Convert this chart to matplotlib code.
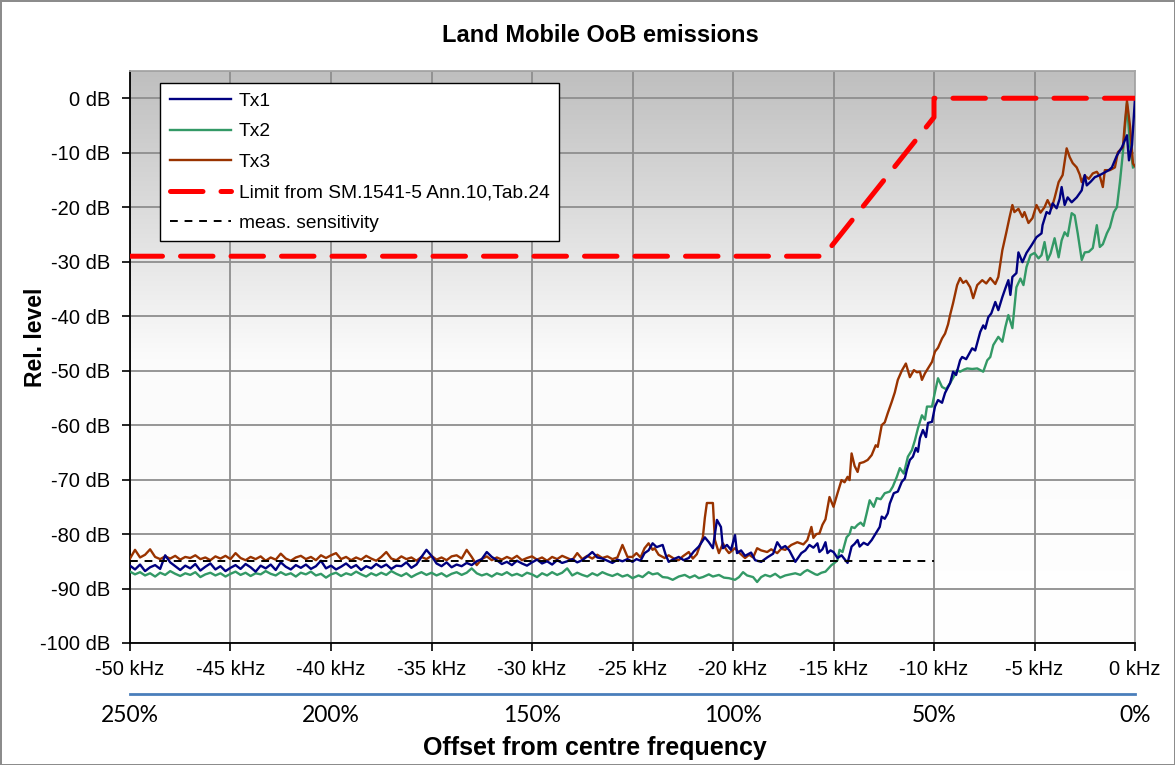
import numpy as np
import matplotlib
matplotlib.use("Agg")
import matplotlib.pyplot as plt

plt.rcParams['font.family'] = ['Liberation Sans', 'DejaVu Sans']

# ---------------- data ----------------
# noise-floor part, sampled every 0.25 kHz from -50 kHz to -25.25 kHz
floor_start_khz = -50.0
floor_step_khz = 0.25

tx1_floor_db = [
    -85.8, -86.5, -85.6, -86.8, -86.1, -85.7, -86.4, -83.9, -85.2, -85.9,
    -86.6, -85.8, -86.3, -85.5, -86.7, -86.0, -85.4, -86.5, -85.9, -86.8,
    -86.2, -85.7, -86.4, -85.5, -86.1, -86.9, -85.8, -86.3, -85.6, -86.6,
    -85.2, -86.0, -86.5, -85.7, -86.2, -85.6, -86.4, -85.9, -84.9, -86.3,
    -85.8, -86.5, -86.0, -85.4, -86.2, -85.7, -86.6, -85.9, -86.3, -85.5,
    -86.1, -85.6, -86.4, -85.8, -85.9, -85.2, -86.2, -85.6, -84.2, -82.9,
    -84.0, -85.4, -85.9, -85.2, -86.1, -85.6, -85.9, -85.3, -85.7, -85.0,
    -84.6, -83.3, -84.2, -84.8, -85.5, -85.1, -85.7, -84.9, -85.4, -85.8,
    -85.2, -84.7, -85.4, -85.0, -85.6, -84.8, -85.3, -85.0, -84.6, -85.2,
    -84.8, -84.1, -83.3, -84.3, -84.5, -84.9, -85.3, -84.7, -85.0, -84.6]

tx2_floor_db = [
    -86.9, -87.4, -87.0, -87.6, -87.2, -87.8, -87.1, -87.5, -86.8, -87.3,
    -87.7, -87.2, -87.5, -87.0, -87.9, -87.4, -87.1, -87.6, -87.2, -87.8,
    -87.3, -86.9, -87.5, -87.1, -87.7, -87.2, -87.4, -86.8, -87.3, -87.6,
    -87.0, -87.5, -87.2, -87.8, -87.1, -87.4, -86.9, -87.6, -87.3, -88.0,
    -87.4, -87.1, -87.7, -87.2, -87.5, -86.9, -87.4, -87.8, -87.2, -87.6,
    -87.1, -87.5, -86.8, -87.3, -87.7, -87.2, -87.9, -87.4, -87.0, -87.5,
    -87.1, -87.6, -87.2, -87.8, -87.3, -87.0, -87.5, -87.1, -86.3, -87.2,
    -87.6, -87.3, -87.8, -87.2, -87.5, -87.0, -87.6, -87.3, -87.7, -87.1,
    -87.4, -87.9, -87.2, -87.6, -87.0, -87.5, -87.1, -86.3, -87.6, -87.1,
    -87.5, -87.8, -87.2, -87.6, -87.0, -87.4, -87.7, -87.3, -87.8, -87.5]

tx3_floor_db = [
    -84.5, -82.9, -84.3, -83.8, -82.8, -84.2, -84.6, -84.1, -84.5, -84.0,
    -84.7, -84.2, -84.4, -83.9, -84.6, -84.3, -84.8, -84.1, -84.5, -84.0,
    -84.6, -83.5, -84.4, -84.8, -84.2, -84.6, -84.1, -84.9, -84.3, -84.7,
    -83.6, -84.5, -84.9, -84.3, -84.0, -84.6, -84.2, -84.8, -83.9, -84.4,
    -83.9, -83.5, -84.6, -84.2, -84.8, -84.3, -84.7, -84.0, -84.5, -84.9,
    -84.2, -83.3, -84.5, -84.8, -84.1, -84.6, -84.3, -84.9, -84.2, -84.6,
    -84.0, -84.7, -84.3, -84.8, -84.1, -83.9, -84.5, -82.9, -84.2, -85.7,
    -84.6, -84.1, -84.8, -84.3, -84.7, -84.2, -84.6, -84.0, -84.8, -84.4,
    -84.1, -84.7, -84.3, -84.9, -84.2, -84.6, -84.0, -84.4, -84.8, -83.5,
    -84.6, -84.0, -84.5, -83.8, -84.4, -84.1, -84.6, -84.3, -82.0, -84.2]

# rising part: (kHz, dB) pairs
tx1_rise_khz = [
    -25.0, -24.8, -24.6, -24.4, -24.2, -24.0, -23.8, -23.5, -23.35, -23.2,
    -22.95, -22.7, -22.45, -22.2, -21.95, -21.7, -21.4, -21.2, -21.0, -20.8,
    -20.6, -20.5, -20.3, -20.1, -19.9, -19.8, -19.6, -19.4, -19.1, -18.9,
    -18.6, -18.3, -18.0, -17.8, -17.6, -17.4, -17.2, -16.9, -16.6, -16.4,
    -16.2, -16.0, -15.8, -15.7, -15.55, -15.4, -15.3, -15.15, -15.0, -14.8,
    -14.6, -14.45, -14.3, -14.1, -13.95, -13.8, -13.7, -13.5, -13.3, -13.1,
    -12.9, -12.7, -12.6, -12.45, -12.3, -12.2, -12.0, -11.8, -11.6, -11.45,
    -11.35, -11.2, -11.05, -10.9, -10.8, -10.7, -10.55, -10.4, -10.3, -10.1,
    -9.95, -9.8, -9.6, -9.45, -9.2, -9.05, -8.9, -8.7, -8.6, -8.4,
    -8.1, -7.95, -7.7, -7.55, -7.45, -7.3, -7.15, -6.95, -6.8, -6.6,
    -6.45, -6.3, -6.2, -6.1, -5.9, -5.8, -5.6, -5.4, -5.15, -4.9,
    -4.65, -4.6, -4.4, -4.25, -4.1, -3.9, -3.75, -3.65, -3.5, -3.35,
    -3.15, -2.9, -2.65, -2.5, -2.4, -2.2, -2.0, -1.75, -1.5, -1.3,
    -1.15, -0.9, -0.65, -0.4, -0.3, -0.15, 0.0]
tx1_rise_db = [
    -85.1, -84.6, -84.9, -83.5, -83.0, -81.7, -82.4, -82.0, -83.8, -85.1,
    -84.6, -84.2, -84.8, -84.4, -83.2, -82.3, -80.6, -81.5, -82.6, -77.4,
    -78.7, -82.6, -82.0, -82.9, -80.2, -83.5, -83.0, -84.0, -83.4, -84.8,
    -85.1, -84.3, -83.6, -81.5, -82.6, -82.2, -83.0, -85.1, -83.5, -83.0,
    -82.0, -82.5, -81.7, -83.3, -82.8, -81.5, -83.5, -83.0, -83.3, -84.4,
    -83.9, -84.6, -85.3, -82.3, -81.8, -81.1, -82.3, -81.6, -82.0, -81.1,
    -79.9, -78.7, -76.8, -77.2, -76.2, -74.4, -72.5, -72.2, -70.4, -69.8,
    -68.2, -66.4, -65.8, -64.2, -64.9, -62.4, -60.9, -62.2, -59.6, -59.4,
    -56.6, -55.4, -55.9, -54.1, -52.3, -50.2, -50.8, -48.1, -47.5, -47.9,
    -45.9, -46.3, -42.9, -41.7, -42.3, -40.2, -39.5, -37.4, -38.9, -36.5,
    -34.9, -33.4, -36.1, -32.8, -32.1, -28.3, -30.1, -28.4, -27.0, -25.5,
    -24.8, -23.3, -20.9, -21.2, -19.3, -20.2, -18.5, -16.3, -19.6, -18.2,
    -19.1, -18.2, -16.9, -14.1, -16.0, -15.3, -14.5, -14.1, -13.6, -13.2,
    -12.7, -10.5, -9.0, -6.8, -11.4, -8.6, 0.0]

tx2_rise_khz = [
    -25.0, -24.7, -24.5, -24.2, -24.0, -23.75, -23.5, -23.25, -23.0, -22.7,
    -22.4, -22.15, -21.9, -21.7, -21.5, -21.2, -21.0, -20.7, -20.45, -20.2,
    -19.9, -19.7, -19.5, -19.3, -19.0, -18.8, -18.6, -18.4, -18.15, -17.9,
    -17.65, -17.4, -17.15, -16.9, -16.65, -16.45, -16.3, -16.1, -15.9, -15.8,
    -15.6, -15.4, -15.25, -15.1, -14.95, -14.8, -14.7, -14.55, -14.35, -14.2,
    -14.1, -13.95, -13.8, -13.65, -13.5, -13.35, -13.2, -13.0, -12.85, -12.65,
    -12.45, -12.2, -12.05, -11.85, -11.7, -11.5, -11.3, -11.1, -10.95, -10.8,
    -10.6, -10.45, -10.35, -10.1, -9.95, -9.8, -9.6, -9.4, -9.2, -9.0,
    -8.85, -8.7, -8.5, -8.35, -8.1, -7.85, -7.55, -7.35, -7.2, -7.05,
    -6.8, -6.6, -6.45, -6.3, -6.1, -5.9, -5.7, -5.55, -5.4, -5.2,
    -5.0, -4.8, -4.65, -4.5, -4.35, -4.2, -4.0, -3.8, -3.65, -3.5,
    -3.35, -3.15, -3.0, -2.85, -2.65, -2.5, -2.3, -2.1, -1.9, -1.75,
    -1.6, -1.4, -1.25, -1.05, -0.9, -0.75, -0.6, -0.4, -0.25, -0.1]
tx2_rise_db = [
    -88.1, -87.6, -87.9, -87.0, -87.4, -87.2, -87.9, -88.0, -88.4, -87.8,
    -87.5, -88.0, -87.6, -88.1, -87.9, -87.4, -87.8, -87.5, -88.0, -88.1,
    -88.4, -87.9, -87.0, -87.6, -87.9, -88.8, -87.9, -87.5, -87.8, -87.3,
    -88.0, -87.6, -87.4, -87.2, -87.5, -86.9, -86.6, -87.0, -87.4, -87.5,
    -87.1, -86.9, -86.3, -85.7, -85.3, -84.8, -82.9, -83.3, -80.6, -80.0,
    -78.7, -78.9, -78.3, -77.9, -78.5, -76.2, -73.8, -75.0, -73.4, -73.6,
    -72.5, -72.2, -71.3, -69.5, -67.9, -68.9, -65.8, -64.6, -62.8, -60.6,
    -58.2, -59.0, -56.6, -56.6, -53.9, -51.4, -53.0, -53.4, -52.3, -51.0,
    -49.9, -50.2, -49.8, -49.6, -49.7, -49.6, -50.2, -48.1, -47.5, -45.3,
    -43.8, -44.7, -42.0, -39.8, -42.2, -34.7, -33.1, -34.3, -31.0, -28.8,
    -28.4, -29.4, -28.8, -26.4, -29.7, -28.5, -25.7, -29.2, -26.1, -24.6,
    -25.3, -21.1, -21.5, -24.8, -29.7, -28.3, -28.2, -27.5, -23.3, -27.3,
    -26.8, -24.8, -23.7, -20.9, -20.0, -15.4, -9.9, -1.0, -8.6, -12.7]

tx3_rise_khz = [
    -25.0, -24.8, -24.6, -24.4, -24.2, -24.0, -23.9, -23.7, -23.4, -23.2,
    -22.9, -22.7, -22.5, -22.2, -22.0, -21.8, -21.5, -21.4, -21.3, -21.0,
    -20.9, -20.7, -20.5, -20.35, -20.2, -19.9, -19.7, -19.4, -19.2, -19.0,
    -18.8, -18.6, -18.3, -18.1, -17.8, -17.6, -17.4, -17.1, -16.8, -16.5,
    -16.3, -16.1, -16.0, -15.85, -15.7, -15.55, -15.4, -15.2, -15.0, -14.8,
    -14.6, -14.45, -14.3, -14.2, -14.1, -13.95, -13.8, -13.7, -13.5, -13.3,
    -13.1, -12.9, -12.8, -12.6, -12.45, -12.3, -12.1, -11.95, -11.8, -11.6,
    -11.4, -11.2, -11.0, -10.85, -10.7, -10.6, -10.45, -10.3, -10.1, -9.95,
    -9.8, -9.6, -9.45, -9.3, -9.2, -9.05, -8.85, -8.7, -8.55, -8.4,
    -8.2, -8.05, -7.85, -7.6, -7.4, -7.2, -6.95, -6.8, -6.6, -6.4,
    -6.25, -6.1, -6.0, -5.8, -5.6, -5.5, -5.3, -5.1, -4.9, -4.7,
    -4.5, -4.35, -4.15, -4.0, -3.8, -3.6, -3.4, -3.25, -3.1, -2.9,
    -2.75, -2.65, -2.5, -2.3, -2.1, -1.9, -1.75, -1.6, -1.5, -1.25,
    -1.0, -0.85, -0.6, -0.5, -0.4, -0.25, -0.1, 0.0]
tx3_rise_db = [
    -84.2, -83.5, -84.3, -82.6, -81.7, -82.9, -82.6, -83.8, -84.4, -83.9,
    -84.6, -84.8, -84.1, -83.3, -84.5, -83.7, -80.6, -77.0, -74.3, -74.3,
    -81.1, -83.5, -81.7, -82.8, -83.5, -82.6, -83.4, -84.4, -83.8, -84.3,
    -82.6, -83.0, -83.3, -82.8, -83.5, -82.7, -82.9, -82.0, -81.5, -81.9,
    -81.1, -78.7, -80.7, -80.0, -79.9, -78.3, -77.3, -73.2, -75.0, -72.5,
    -70.1, -70.5, -69.5, -70.1, -65.2, -67.5, -68.6, -67.0, -66.8, -66.4,
    -65.5, -63.7, -64.0, -60.0, -59.5, -57.8, -55.7, -54.0, -51.7, -50.0,
    -48.7, -51.2, -49.9, -50.3, -50.2, -51.7, -50.5, -49.6, -48.4, -46.5,
    -45.8, -44.1, -43.2, -41.5, -39.8, -37.6, -34.3, -33.0, -33.9, -33.5,
    -34.7, -36.7, -34.3, -33.4, -34.0, -33.0, -34.1, -32.8, -27.9, -24.6,
    -22.0, -19.6, -20.9, -20.3, -21.8, -20.9, -22.9, -22.0, -19.6, -21.0,
    -20.0, -18.7, -20.2, -18.3, -15.4, -14.1, -9.2, -10.8, -11.9, -12.7,
    -14.0, -15.4, -14.2, -14.8, -13.8, -13.5, -14.3, -16.3, -13.2, -13.2,
    -12.7, -9.9, -9.0, -4.4, -0.5, -5.0, -12.0, -12.5]

limit_khz = [-50.0, -15.5, -10.0, -10.0, 0.0]
limit_db = [-29.0, -29.0, -3.5, 0.0, 0.0]

sens_khz = [-50.0, -10.0]
sens_db = [-85.0, -85.0]

x_ticks_khz = [-50, -45, -40, -35, -30, -25, -20, -15, -10, -5, 0]
y_ticks_db = [0, -10, -20, -30, -40, -50, -60, -70, -80, -90, -100]
pct_ticks = [250, 200, 150, 100, 50, 0]

series_labels = ['Tx1', 'Tx2', 'Tx3', 'Limit from SM.1541-5 Ann.10,Tab.24', 'meas. sensitivity']


def assemble(floor_db, rise_khz, rise_db):
    fx = floor_start_khz + floor_step_khz * np.arange(len(floor_db))
    return np.concatenate([fx, rise_khz]), np.concatenate([floor_db, rise_db])


tx1_x, tx1_y = assemble(tx1_floor_db, tx1_rise_khz, tx1_rise_db)
tx2_x, tx2_y = assemble(tx2_floor_db, tx2_rise_khz, tx2_rise_db)
tx3_x, tx3_y = assemble(tx3_floor_db, tx3_rise_khz, tx3_rise_db)

# ---------------- figure ----------------
W, H = 1175, 765
fig = plt.figure(figsize=(W / 100, H / 100), dpi=100)
fig.patch.set_facecolor('white')
fig.patch.set_edgecolor('#8c8c8c')
fig.patch.set_linewidth(1.0)

ax_l, ax_r, ax_t, ax_b = 130, 1135, 71, 643
ax = fig.add_axes([ax_l / W, 1 - ax_b / H, (ax_r - ax_l) / W, (ax_b - ax_t) / H])

ax.set_xlim(-50, 0)
ax.set_ylim(-100, 5)

# gradient background
grad = np.linspace(0, 1, 256).reshape(-1, 1)
cmap = matplotlib.colors.LinearSegmentedColormap.from_list('bg', ['#ffffff', '#fbfbfb', '#bfbfbf'], N=256)
ax.imshow(grad, extent=[0, 1, 0, 1], transform=ax.transAxes, origin='lower',
          cmap=cmap, aspect='auto', zorder=0, interpolation='bicubic')

ax.set_xticks(x_ticks_khz)
ax.set_xticklabels([f'{v} kHz' for v in x_ticks_khz])
ax.set_yticks(y_ticks_db)
ax.set_yticklabels([f'{v} dB' for v in y_ticks_db])
ax.grid(True, color='#8e8e8e', linewidth=1.3, zorder=1)
ax.axhline(5, color='#8e8e8e', linewidth=1.3, zorder=1)
ax.set_axisbelow(True)
ax.tick_params(axis='both', direction='out', length=6, width=1.2, colors='black',
               labelsize=14.5)
ax.tick_params(axis='x', pad=6)
ax.tick_params(axis='y', pad=8)
for s in ['left', 'bottom']:
    ax.spines[s].set_color('black')
    ax.spines[s].set_linewidth(1.3)
for s in ['top', 'right']:
    ax.spines[s].set_color('#a6a6a6')
    ax.spines[s].set_linewidth(1.3)

lw = 1.7
h1, = ax.plot(tx1_x, tx1_y, color='#000080', lw=lw, zorder=4, label=series_labels[0])
h2, = ax.plot(tx2_x, tx2_y, color='#339966', lw=lw, zorder=3, label=series_labels[1])
h3, = ax.plot(tx3_x, tx3_y, color='#993300', lw=lw, zorder=3.5, label=series_labels[2])
h4, = ax.plot(limit_khz, limit_db, color='#ff0000', lw=3.6, zorder=5,
              dashes=(6.5, 3.6), dash_capstyle='round', solid_joinstyle='round',
              label=series_labels[3])
h5, = ax.plot(sens_khz, sens_db, color='black', lw=1.4, zorder=6,
              dashes=(4, 3.5), label=series_labels[4])

leg = ax.legend(handles=[h1, h2, h3, h4, h5], loc='upper left',
                bbox_to_anchor=((160 - ax_l) / (ax_r - ax_l), (ax_b - 83) / (ax_b - ax_t)),
                borderaxespad=0, fancybox=False, framealpha=1, edgecolor='black',
                fontsize=13.8, handlelength=3.2, handletextpad=0.4, labelspacing=0.68,
                borderpad=0.5)
leg.get_frame().set_linewidth(1.0)
leg.set_zorder(10)

# secondary percentage axis (relative to necessary bandwidth)
sec = ax.secondary_xaxis(-(694 - ax_b) / (ax_b - ax_t),
                         functions=(lambda x: -5.0 * x, lambda p: -p / 5.0))
sec.set_xticks(pct_ticks)
sec.set_xticklabels([f'{p}%' for p in pct_ticks])
sec.spines['bottom'].set_color('#4a7ebb')
sec.spines['bottom'].set_linewidth(2.0)
sec.tick_params(axis='x', length=0, pad=8, labelsize=16.5)
for t in sec.get_xticklabels():
    t.set_fontfamily(['Lato', 'DejaVu Sans'])

fig.text(600 / W, 1 - 36 / H, 'Land Mobile OoB emissions', ha='center', va='center',
         fontsize=17, fontweight='bold')
fig.text(35 / W, 1 - 337 / H, 'Rel. level', ha='center', va='center', rotation=90,
         fontsize=16.5, fontweight='bold')
fig.text(595 / W, 1 - 748 / H, 'Offset from centre frequency', ha='center', va='center',
         fontsize=18, fontweight='bold')

fig.savefig('out.png', dpi=100, facecolor=fig.get_facecolor(), edgecolor=fig.get_edgecolor())
